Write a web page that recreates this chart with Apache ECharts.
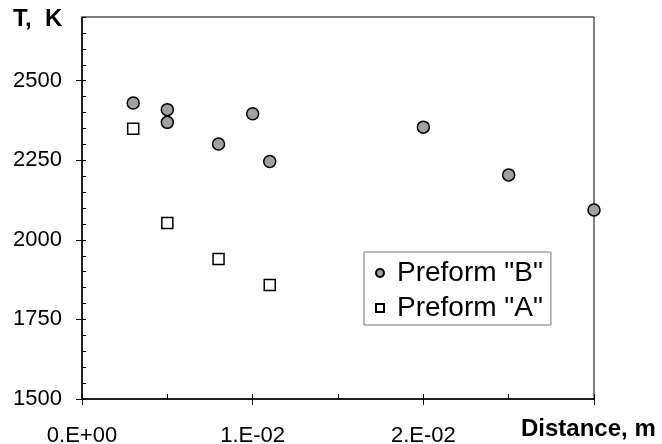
<!DOCTYPE html>
<html>
<head>
<meta charset="utf-8">
<script src="https://cdn.jsdelivr.net/npm/echarts@6/dist/echarts.min.js"></script>
<style>html,body{margin:0;padding:0;background:#fff;}#c{width:662px;height:444px;}</style>
</head>
<body>
<div id="c"></div>
<script>
var xTickLabels = {0: '0.E+00', 0.01: '1.E-02', 0.02: '2.E-02'};
var yTickLabels = [1500, 1750, 2000, 2250, 2500];
var seriesNames = ['Preform "B"', 'Preform "A"'];
var distB = [0.003, 0.005, 0.005, 0.008, 0.010, 0.011, 0.020, 0.025, 0.030];
var tempB = [2430, 2409, 2369, 2301, 2396, 2246, 2354, 2204, 2094];
var distA = [0.003, 0.005, 0.008, 0.011];
var tempA = [2349, 2053, 1940, 1858];

function pairs(xs, ys) { return xs.map(function (x, i) { return [x, ys[i]]; }); }
var FONT = 'Arial, "Liberation Sans", sans-serif';

var chart = echarts.init(document.getElementById('c'));
chart.setOption({
  animation: false,
  backgroundColor: '#fff',
  grid: { left: 82, top: 17, right: 68, bottom: 45, show: true, borderColor: '#000', borderWidth: 1, backgroundColor: 'transparent', outerBoundsMode: 'none', containLabel: false },
  xAxis: [{
    type: 'value', min: 0, max: 0.03, interval: 0.01,
    axisLine: { show: true, lineStyle: { color: '#000', width: 1.5 } },
    axisTick: { show: true, inside: false, length: 6, lineStyle: { color: '#000' } },
    splitLine: { show: false },
    axisLabel: {
      margin: 26, color: '#000', fontSize: 22, fontFamily: FONT,
      formatter: function (v) { var k = Math.round(v * 1000) / 1000; return xTickLabels[k] !== undefined ? xTickLabels[k] : ''; }
    }
  }, {
    type: 'value', min: 0, max: 0.03, interval: 0.005, position: 'bottom', gridIndex: 0,
    axisLine: { show: false }, axisLabel: { show: false }, splitLine: { show: false },
    axisTick: { show: true, inside: true, length: 5, lineStyle: { color: '#000' } }
  }],
  yAxis: [{
    type: 'value', min: 1500, max: 2700, interval: 250,
    axisLine: { show: true, lineStyle: { color: '#000', width: 1.5 } },
    axisTick: { show: true, inside: false, length: 6, lineStyle: { color: '#000' } },
    splitLine: { show: false },
    axisLabel: {
      margin: 20, color: '#000', fontSize: 22, fontFamily: FONT, showMaxLabel: false,
      formatter: function (v) { return yTickLabels.indexOf(v) >= 0 ? String(v) : ''; }
    }
  }, {
    type: 'value', min: 1500, max: 2700, interval: 50, position: 'left', gridIndex: 0,
    axisLine: { show: false }, axisLabel: { show: false }, splitLine: { show: false },
    axisTick: { show: true, inside: true, length: 4, lineStyle: { color: '#000' } }
  }],
  legend: {
    left: 364, top: 252, orient: 'vertical', align: 'left',
    backgroundColor: '#fff', borderColor: '#777', borderWidth: 1,
    padding: [7, 8, 3, 11], itemGap: 7, itemWidth: 8, itemHeight: 8,
    textStyle: { fontSize: 28, color: '#000', fontFamily: FONT, padding: [0, 0, 0, 8] },
    data: seriesNames
  },
  graphic: [
    { type: 'text', left: 13, top: 7, style: { text: 'T,  K', font: 'bold 24px ' + FONT, fill: '#000' } },
    { type: 'text', left: 521, top: 417, style: { text: 'Distance, m', font: 'bold 24px ' + FONT, fill: '#000' } }
  ],
  series: [{
    name: seriesNames[0], type: 'scatter', xAxisIndex: 0, yAxisIndex: 0,
    symbol: 'circle', symbolSize: 12,
    itemStyle: { color: '#a0a0a0', borderColor: '#000', borderWidth: 1.5, opacity: 1 },
    data: pairs(distB, tempB), z: 3
  }, {
    name: seriesNames[1], type: 'scatter', xAxisIndex: 0, yAxisIndex: 0,
    symbol: 'rect', symbolSize: 11,
    itemStyle: { color: '#fff', borderColor: '#000', borderWidth: 1.5, opacity: 1 },
    data: pairs(distA, tempA), z: 3
  }]
});
</script>
</body>
</html>
